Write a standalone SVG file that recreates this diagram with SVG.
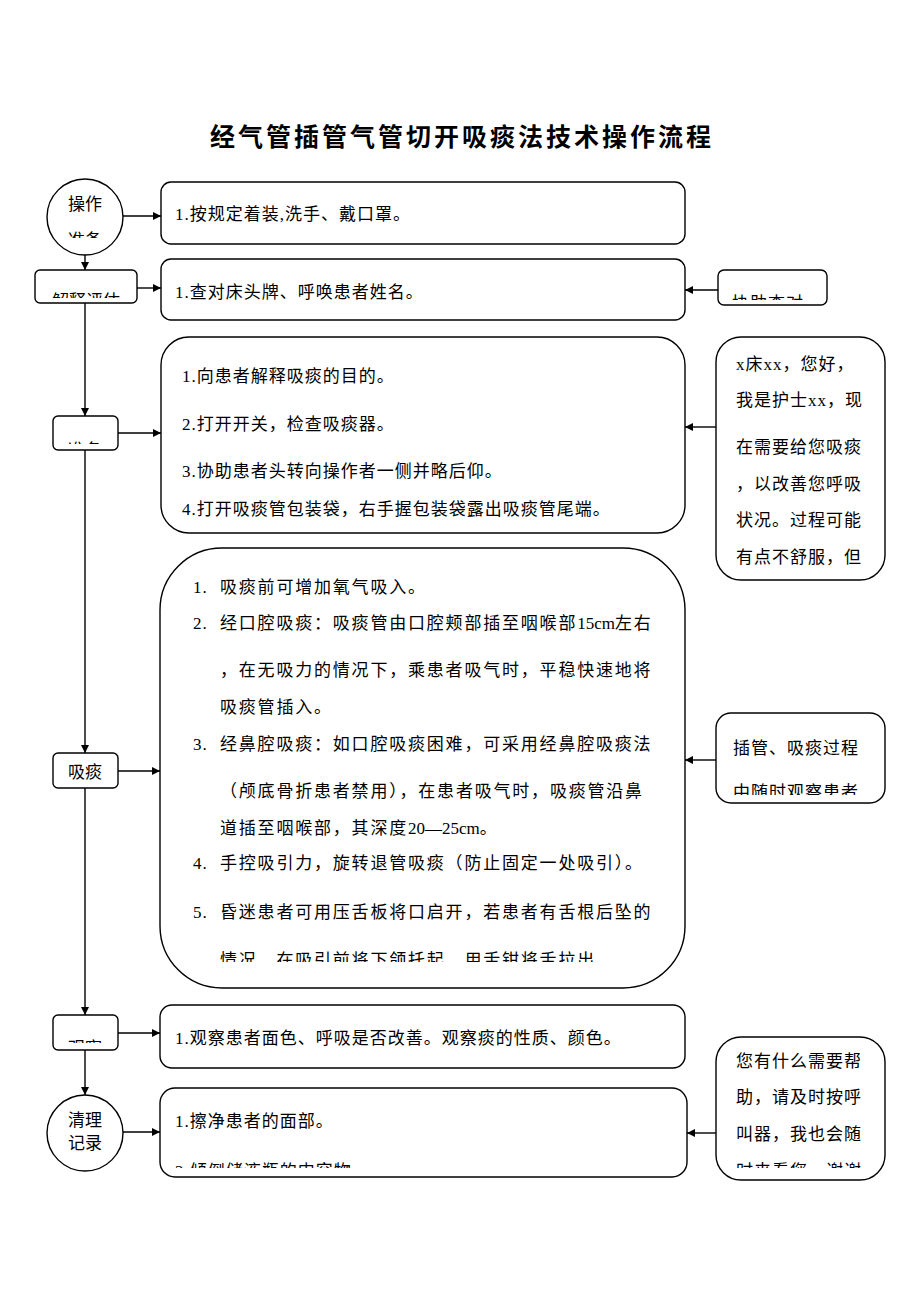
<svg xmlns="http://www.w3.org/2000/svg" width="920" height="1302" viewBox="0 0 920 1302">
<style>
.bx{fill:#fff;stroke:#000;stroke-width:1.4}
.t{font-family:"Liberation Serif","Noto Sans CJK SC",serif;font-size:17px;fill:#000;letter-spacing:1px}
.t4{font-family:"Liberation Serif","Noto Sans CJK SC",serif;font-size:17px;fill:#000;letter-spacing:1.8px}
.n{letter-spacing:0}
.c{text-anchor:middle;letter-spacing:0}
.ttl{font-family:"Liberation Serif","Noto Sans CJK SC",serif;font-size:25px;font-weight:bold;text-anchor:middle;letter-spacing:3px}
.ln{stroke:#000;stroke-width:1.4;fill:none}
</style>
<defs>
<marker id="ah" viewBox="0 0 10 10" refX="10" refY="5" markerWidth="10" markerHeight="8" markerUnits="userSpaceOnUse" orient="auto"><path d="M0,0 L10,5 L0,10 z" fill="#000"/></marker>
<clipPath id="cp1"><rect x="40" y="180" width="90" height="58"/></clipPath>
<clipPath id="cp2"><rect x="35" y="270" width="102" height="28"/></clipPath>
<clipPath id="cp3"><rect x="53" y="416" width="65" height="28"/></clipPath>
<clipPath id="cp5"><rect x="53" y="1015" width="65" height="28"/></clipPath>
<clipPath id="cpr1"><rect x="718" y="270" width="109" height="30"/></clipPath>
<clipPath id="cpr3"><rect x="716" y="713" width="169" height="82"/></clipPath>
<clipPath id="cpr4"><rect x="716" y="1037" width="169" height="131"/></clipPath>
<clipPath id="cpb4"><rect x="160" y="548" width="525" height="414"/></clipPath>
<clipPath id="cpb6"><rect x="160" y="1088" width="527" height="80"/></clipPath>
</defs>
<rect width="920" height="1302" fill="#fff"/>
<text class="ttl" x="462" y="146">经气管插管气管切开吸痰法技术操作流程</text>

<g id="connectors">
<line class="ln" x1="85" y1="255" x2="85" y2="270" marker-end="url(#ah)"/>
<line class="ln" x1="85" y1="303" x2="85" y2="416" marker-end="url(#ah)"/>
<line class="ln" x1="85" y1="450" x2="85" y2="753" marker-end="url(#ah)"/>
<line class="ln" x1="85" y1="788" x2="85" y2="1015" marker-end="url(#ah)"/>
<line class="ln" x1="85" y1="1050" x2="85" y2="1095" marker-end="url(#ah)"/>
<line class="ln" x1="123" y1="216" x2="161" y2="216" marker-end="url(#ah)"/>
<line class="ln" x1="137" y1="288" x2="161" y2="288" marker-end="url(#ah)"/>
<line class="ln" x1="118" y1="433" x2="161" y2="433" marker-end="url(#ah)"/>
<line class="ln" x1="118" y1="771" x2="160" y2="771" marker-end="url(#ah)"/>
<line class="ln" x1="118" y1="1033" x2="160" y2="1033" marker-end="url(#ah)"/>
<line class="ln" x1="123" y1="1132" x2="160" y2="1132" marker-end="url(#ah)"/>
<line class="ln" x1="718" y1="290" x2="685" y2="290" marker-end="url(#ah)"/>
<line class="ln" x1="716" y1="427" x2="685" y2="427" marker-end="url(#ah)"/>
<line class="ln" x1="716" y1="760" x2="685" y2="760" marker-end="url(#ah)"/>
<line class="ln" x1="716" y1="1133" x2="687" y2="1133" marker-end="url(#ah)"/>
</g>

<g id="n-prep">
<circle class="bx" cx="85" cy="217" r="38"/>
<text class="t c" x="85" y="210">操作</text>
<text class="t c" x="85" y="246" clip-path="url(#cp1)">准备</text>
</g>
<g id="n-explain">
<rect class="bx" x="35" y="270" width="102" height="33" rx="5"/>
<text class="t c" x="86" y="307" clip-path="url(#cp2)">解释评估</text>
</g>
<g id="n-ready">
<rect class="bx" x="53" y="416" width="65" height="34" rx="5"/>
<text class="t c" x="85" y="456" clip-path="url(#cp3)">准备</text>
</g>
<g id="n-suction">
<rect class="bx" x="53" y="753" width="65" height="35" rx="5"/>
<text class="t c" x="85" y="778">吸痰</text>
</g>
<g id="n-observe">
<rect class="bx" x="53" y="1015" width="65" height="35" rx="5"/>
<text class="t c" x="85" y="1054" clip-path="url(#cp5)">观察</text>
</g>
<g id="n-clean">
<circle class="bx" cx="85" cy="1133" r="38"/>
<text class="t c" x="85" y="1126">清理</text>
<text class="t c" x="85" y="1149">记录</text>
</g>

<g id="b1">
<rect class="bx" x="161" y="182" width="524" height="62" rx="10"/>
<text class="t" x="175" y="220">1.按规定着装,洗手、戴口罩。</text>
</g>
<g id="b2">
<rect class="bx" x="161" y="259" width="524" height="61" rx="10"/>
<text class="t" x="175" y="298">1.查对床头牌、呼唤患者姓名。</text>
</g>
<g id="b3">
<rect class="bx" x="161" y="337" width="524" height="196" rx="28"/>
<text class="t" x="182" y="382">1.向患者解释吸痰的目的。</text>
<text class="t" x="182" y="430">2.打开开关，检查吸痰器。</text>
<text class="t" x="182" y="477">3.协助患者头转向操作者一侧并略后仰。</text>
<text class="t" x="182" y="515">4.打开吸痰管包装袋，右手握包装袋露出吸痰管尾端。</text>
</g>
<g id="b4">
<rect class="bx" x="160" y="548" width="525" height="440" rx="62"/>
<text class="t" x="193" y="593">1.</text><text class="t4" x="220" y="593">吸痰前可增加氧气吸入。</text>
<text class="t" x="193" y="629">2.</text><text class="t4" x="220" y="629">经口腔吸痰：吸痰管由口腔颊部插至咽喉部<tspan class="n">15cm</tspan>左右</text>
<text class="t4" x="220" y="676">，在无吸力的情况下，乘患者吸气时，平稳快速地将</text>
<text class="t4" x="220" y="713">吸痰管插入。</text>
<text class="t" x="193" y="750">3.</text><text class="t4" x="220" y="750">经鼻腔吸痰：如口腔吸痰困难，可采用经鼻腔吸痰法</text>
<text class="t4" x="220" y="797">（颅底骨折患者禁用），在患者吸气时，吸痰管沿鼻</text>
<text class="t4" x="220" y="834">道插至咽喉部，其深度<tspan class="n">20—25cm</tspan>。</text>
<text class="t" x="193" y="869">4.</text><text class="t4" x="220" y="869">手控吸引力，旋转退管吸痰（防止固定一处吸引）。</text>
<text class="t" x="193" y="918">5.</text><text class="t4" x="220" y="918">昏迷患者可用压舌板将口启开，若患者有舌根后坠的</text>
<text class="t4" x="220" y="966" clip-path="url(#cpb4)">情况，在吸引前将下颌托起，用舌钳将舌拉出</text>
</g>
<g id="b5">
<rect class="bx" x="160" y="1005" width="525" height="63" rx="12"/>
<text class="t" x="175" y="1044">1.观察患者面色、呼吸是否改善。观察痰的性质、颜色。</text>
</g>
<g id="b6">
<rect class="bx" x="160" y="1088" width="527" height="89" rx="15"/>
<text class="t" x="175" y="1127">1.擦净患者的面部。</text>
<text class="t" x="175" y="1177" clip-path="url(#cpb6)">2.倾倒储液瓶的内容物</text>
</g>

<g id="r1">
<rect class="bx" x="718" y="270" width="109" height="35" rx="6"/>
<text class="t" x="732" y="309" clip-path="url(#cpr1)">协助查对</text>
</g>
<g id="r2">
<rect class="bx" x="716" y="337" width="169" height="243" rx="25"/>
<text class="t" x="736" y="370">x床xx，您好，</text>
<text class="t" x="736" y="406">我是护士xx，现</text>
<text class="t" x="736" y="453">在需要给您吸痰</text>
<text class="t" x="736" y="490">，以改善您呼吸</text>
<text class="t" x="736" y="526">状况。过程可能</text>
<text class="t" x="736" y="563">有点不舒服，但</text>
</g>
<g id="r3">
<rect class="bx" x="716" y="713" width="169" height="90" rx="15"/>
<text class="t" x="733" y="754">插管、吸痰过程</text>
<text class="t" x="733" y="798" clip-path="url(#cpr3)">中随时观察患者</text>
</g>
<g id="r4">
<rect class="bx" x="716" y="1037" width="169" height="143" rx="25"/>
<text class="t" x="736" y="1067">您有什么需要帮</text>
<text class="t" x="736" y="1103">助，请及时按呼</text>
<text class="t" x="736" y="1140">叫器，我也会随</text>
<text class="t" x="736" y="1177" clip-path="url(#cpr4)">时来看您，谢谢</text>
</g>
</svg>
